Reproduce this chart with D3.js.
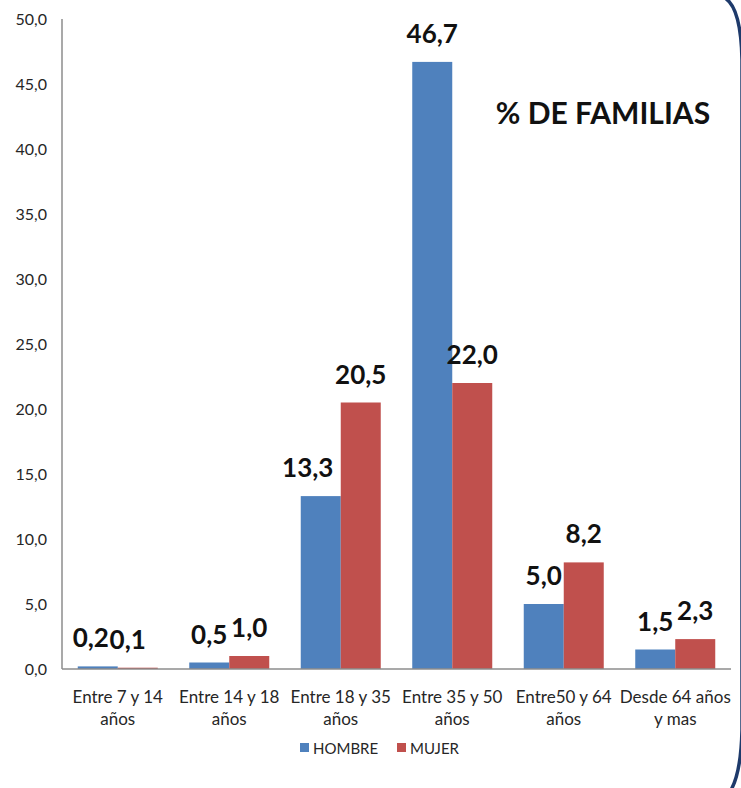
<!DOCTYPE html>
<html>
<head>
<meta charset="utf-8">
<script src="https://cdn.jsdelivr.net/npm/d3@7/dist/d3.min.js"></script>
<style>
  html, body { margin: 0; padding: 0; background: #ffffff; }
  svg { display: block; }
  .tick-label { font-family: Lato, "Liberation Sans", sans-serif; font-size: 16px; fill: #262626; }
  .cat-label { font-family: Lato, "Liberation Sans", sans-serif; font-size: 17px; fill: #262626; }
  .value-label { font-family: Lato, "Liberation Sans", sans-serif; font-size: 26px; font-weight: bold; fill: #111111; }
  .title { font-family: Lato, "Liberation Sans", sans-serif; font-size: 30px; font-weight: bold; fill: #111111; }
  .legend-label { font-family: Lato, "Liberation Sans", sans-serif; font-size: 15px; fill: #262626; }
</style>
</head>
<body>
<script>
// Age brackets of the head of household (two-line axis labels)
const categories = [
  "Entre 7 y 14 años",
  "Entre 14 y 18 años",
  "Entre 18 y 35 años",
  "Entre 35 y 50 años",
  "Entre50 y 64 años",
  "Desde 64 años y mas"
];
const categoryLines = [
  ["Entre 7 y 14", "años"],
  ["Entre 14 y 18", "años"],
  ["Entre 18 y 35", "años"],
  ["Entre 35 y 50", "años"],
  ["Entre50 y 64", "años"],
  ["Desde 64 años", "y mas"]
];
const seriesNames = ["HOMBRE", "MUJER"];
const hombre = [0.2, 0.5, 13.3, 46.7, 5.0, 1.5];
const mujer = [0.1, 1.0, 20.5, 22.0, 8.2, 2.3];
const tickValues = [0, 5, 10, 15, 20, 25, 30, 35, 40, 45, 50];
const titleText = "% DE FAMILIAS";

// Styling / layout
const colors = { HOMBRE: "#4F81BD", MUJER: "#C0504D" };
// small horizontal nudges for crowded value labels
const labelShift = { HOMBRE: [-7, 0, -13, 0, 0, 0], MUJER: [-10, 0, 0, 0, 0, 0] };

const W = 741, H = 788;
const plot = { left: 62, right: 731, top: 19, bottom: 669 };

const esLocale = d3.formatLocale({ decimal: ",", thousands: ".", grouping: [3], currency: ["", " €"] });
const fmt = esLocale.format(".1f");

const svg = d3.select("body").append("svg").attr("width", W).attr("height", H);

const y = d3.scaleLinear().domain([0, 50]).range([plot.bottom, plot.top]);
const x0 = d3.scaleBand().domain(categories).range([plot.left, plot.right])
  .paddingInner(0.2825).paddingOuter(0.14125);
const x1 = d3.scaleBand().domain(seriesNames).range([0, x0.bandwidth()]);

const rows = categories.map((c, i) => ({
  cat: c, i,
  values: [
    { key: "HOMBRE", value: hombre[i] },
    { key: "MUJER", value: mujer[i] }
  ]
}));

// Y axis: line + tick labels
const yAxis = d3.axisLeft(y).tickValues(tickValues).tickFormat(fmt).tickSize(0).tickPadding(15);
const gy = svg.append("g").attr("transform", `translate(${plot.left},0)`).call(yAxis);
gy.select(".domain").attr("stroke", "#8c8c8c").attr("stroke-width", 1.5).attr("d", `M0,${plot.top}V${plot.bottom}`);
gy.selectAll("text").attr("class", "tick-label").attr("font-family", null).attr("font-size", null).attr("fill", null);

// Bars
const groups = svg.append("g").selectAll("g").data(rows).join("g")
  .attr("transform", d => `translate(${x0(d.cat)},0)`);

groups.selectAll("rect").data(d => d.values).join("rect")
  .attr("x", d => x1(d.key))
  .attr("y", d => y(d.value))
  .attr("width", x1.bandwidth())
  .attr("height", d => y(0) - y(d.value))
  .attr("fill", d => colors[d.key]);

// Value labels
groups.each(function (row) {
  d3.select(this).selectAll("text.value-label").data(row.values).join("text")
    .attr("class", "value-label")
    .attr("text-anchor", "middle")
    .attr("x", d => x1(d.key) + x1.bandwidth() / 2 + labelShift[d.key][row.i])
    .attr("y", d => y(d.value) - 19)
    .text(d => fmt(d.value));
});

// X axis line and category labels
const xAxis = d3.axisBottom(x0).tickSize(0).tickFormat(() => "");
const gx = svg.append("g").attr("transform", `translate(0,${plot.bottom})`).call(xAxis);
gx.select(".domain").attr("stroke", "#8c8c8c").attr("stroke-width", 1.5).attr("d", `M${plot.left},0H${plot.right}`);
gx.selectAll(".tick").each(function (c, i) {
  const t = d3.select(this).append("text").attr("class", "cat-label").attr("text-anchor", "middle");
  categoryLines[i].forEach((line, k) => {
    t.append("tspan").attr("x", 0).attr("y", 34 + k * 22).text(line);
  });
});

// Title inside the plot
svg.append("text").attr("class", "title").attr("x", 603).attr("y", 124)
  .attr("text-anchor", "middle").text(titleText);

// Legend
const legend = svg.append("g").attr("transform", "translate(300,748)");
const legendItems = legend.selectAll("g").data(seriesNames).join("g")
  .attr("transform", (d, i) => `translate(${i * 97},0)`);
legendItems.append("rect").attr("x", 0).attr("y", -5).attr("width", 9).attr("height", 9)
  .attr("fill", d => colors[d]);
legendItems.append("text").attr("class", "legend-label").attr("x", 13).attr("y", 6).text(d => d);

// Rounded frame edge along the right side
svg.append("path")
  .attr("d", `M725,-2 Q741,8 742,60 L742,730 Q741,772 731,790`)
  .attr("fill", "none").attr("stroke", "#1e3a6b").attr("stroke-width", 3.5);
</script>
</body>
</html>
